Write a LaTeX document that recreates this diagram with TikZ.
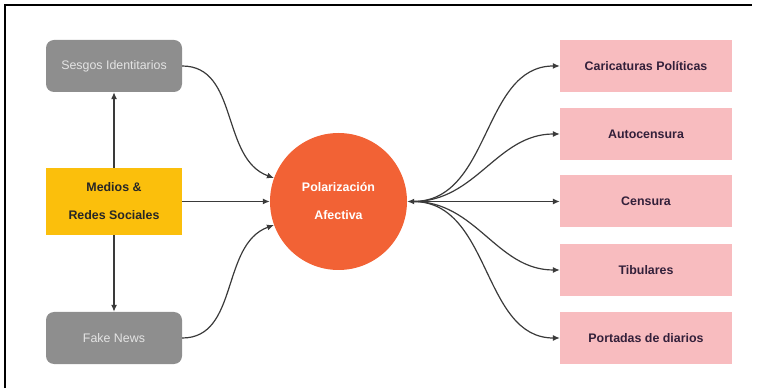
\documentclass[tikz,border=0pt]{standalone}
\usepackage{fontspec}
\setmainfont{Liberation Sans}
\usetikzlibrary{arrows.meta}
\definecolor{grisfondo}{HTML}{8E8E8E}
\definecolor{gristexto}{HTML}{E4E4E4}
\definecolor{amarillo}{HTML}{FBBF0C}
\definecolor{naranja}{HTML}{F26235}
\definecolor{rosa}{HTML}{F8BCBF}
\definecolor{morado}{HTML}{33203A}
\definecolor{linea}{HTML}{3A3A3A}
\begin{document}
\begin{tikzpicture}[x=1pt,y=1pt,
    gris/.style={fill=grisfondo, rounded corners=8pt, minimum width=136pt,
      minimum height=52pt, text=gristexto, font=\fontsize{12.4}{28}\selectfont},
    medio/.style={fill=amarillo, minimum width=136pt, minimum height=67pt,
      align=center, text=black!85, font=\bfseries\fontsize{12.4}{28}\selectfont},
    efecto/.style={fill=rosa, minimum width=172pt, minimum height=52pt,
      text=morado, font=\bfseries\fontsize{12.4}{28}\selectfont},
    centro/.style={circle, fill=naranja, minimum size=137pt, inner sep=0pt,
      align=center, text=white, font=\bfseries\fontsize{12.4}{28}\selectfont},
    punta/.tip={Latex[length=7pt,width=6pt]},
    flecha/.style={draw=linea, line width=1.2pt, -punta}]
  \useasboundingbox (0,0) rectangle (757,388);
  \draw[line width=1.4pt] (5,0) -- (5,383) -- (752,383);
  % left column
  \node[gris] (sesgos) at (114,322) {Sesgos Identitarios};
  \node[medio] (medios) at (114,186.5) {Medios \&\\Redes Sociales};
  \node[gris] (fake) at (114,50) {Fake News};
  % center
  \node[centro] (pol) at (338.5,186.5) {Polarización\\Afectiva};
  % right column
  \node[efecto] (carica) at (646,322) {Caricaturas Políticas};
  \node[efecto] (auto) at (646,254) {Autocensura};
  \node[efecto] (censura) at (646,186.5) {Censura};
  \node[efecto] (titu) at (646,118) {Tibulares};
  \node[efecto] (portadas) at (646,50) {Portadas de diarios};
  \coordinate (hub) at ([xshift=6pt]pol.east);
  \begin{scope}[flecha]
    \draw (medios) -- (sesgos);
    \draw (medios) -- (fake);
    \draw (medios) -- (pol);
    \draw (sesgos.east) to[out=0,in=160] (pol.160);
    \draw (fake.east) to[out=0,in=200] (pol.200);
    \draw[punta-punta] (pol.east) -- (censura.west);
    \draw (hub) to[out=0,in=180] (carica.west);
    \draw (hub) to[out=0,in=180] (auto.west);
    \draw (hub) to[out=0,in=180] (titu.west);
    \draw (hub) to[out=0,in=180] (portadas.west);
  \end{scope}
\end{tikzpicture}
\end{document}
